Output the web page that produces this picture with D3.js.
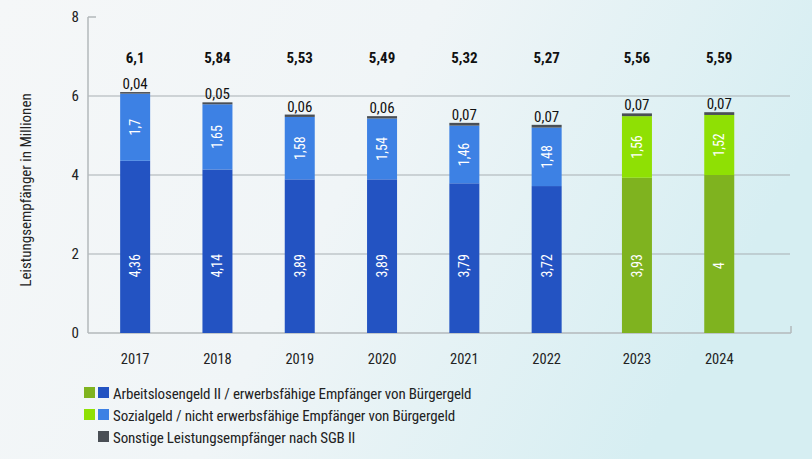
<!DOCTYPE html>
<html>
<head>
<meta charset="utf-8">
<script src="https://cdn.jsdelivr.net/npm/d3@7"></script>
<style>
  html, body { margin: 0; padding: 0; }
  body { width: 812px; height: 459px; overflow: hidden; }
  svg text { font-family: "Liberation Sans Narrow", "Arial Narrow", "Roboto Condensed", sans-serif; }
</style>
</head>
<body>
<div id="chart"></div>
<script>
// values in Millionen
var years = [2017, 2018, 2019, 2020, 2021, 2022, 2023, 2024];
var arbeitslosengeld = [4.36, 4.14, 3.89, 3.89, 3.79, 3.72, 3.93, 4];
var sozialgeld = [1.7, 1.65, 1.58, 1.54, 1.46, 1.48, 1.56, 1.52];
var sonstige = [0.04, 0.05, 0.06, 0.06, 0.07, 0.07, 0.07, 0.07];
var totals = [6.1, 5.84, 5.53, 5.49, 5.32, 5.27, 5.56, 5.59];
var yTicks = [0, 2, 4, 6, 8];
var legendLabels = [
  "Arbeitslosengeld II / erwerbsfähige Empfänger von Bürgergeld",
  "Sozialgeld / nicht erwerbsfähige Empfänger von Bürgergeld",
  "Sonstige Leistungsempfänger nach SGB II"
];

var W = 812, H = 459;
var blue = ["#2353c2", "#3d81e4", "#4a4f55"];
var green = ["#7fb31f", "#8fe004", "#4a4f55"];

function de(v) { return String(v).replace(".", ","); }
function isGreen(yr) { return yr >= 2023; }

var svg = d3.select("#chart").append("svg")
    .attr("width", W)
    .attr("height", H);

var defs = svg.append("defs");
var grad = defs.append("linearGradient")
    .attr("id", "bg")
    .attr("x1", "0").attr("y1", "0").attr("x2", "1").attr("y2", "0.3");
grad.append("stop").attr("offset", "0").attr("stop-color", "#f5f7f8");
grad.append("stop").attr("offset", "0.5").attr("stop-color", "#f0f5f7");
grad.append("stop").attr("offset", "1").attr("stop-color", "#d6eef2");
svg.append("rect").attr("width", W).attr("height", H).attr("fill", "url(#bg)");

var x0 = 88, x1 = 791;
var y = d3.scaleLinear().domain([0, 8]).range([333, 17]);
var x = d3.scaleBand().domain(years).range([94, 752.4]).padding(0);
var gap = 8, barW = 30;
function xc(yr) { return x(yr) + x.bandwidth() / 2 + (isGreen(yr) ? gap : 0); }

// gridlines
svg.append("g").selectAll("line")
    .data(yTicks.filter(function(d) { return d > 0 && d < 8; }))
    .enter().append("line")
    .attr("x1", x0).attr("x2", x1 - 1)
    .attr("y1", function(d) { return y(d); })
    .attr("y2", function(d) { return y(d); })
    .attr("stroke", "#a8afb3")
    .attr("stroke-width", 1);

// y axis
var yAxis = svg.append("g")
    .attr("transform", "translate(" + x0 + ",0)")
    .call(d3.axisLeft(y).tickValues(yTicks).tickSize(0).tickPadding(9));
yAxis.select(".domain").remove();
yAxis.selectAll("text")
    .attr("font-size", 15)
    .attr("fill", "#222");

svg.append("line")
    .attr("x1", x0).attr("x2", x0)
    .attr("y1", y(8)).attr("y2", y(0))
    .attr("stroke", "#b3b8bb").attr("stroke-width", 1.5);
svg.append("line")
    .attr("x1", x0).attr("x2", x0 + 8)
    .attr("y1", y(8)).attr("y2", y(8))
    .attr("stroke", "#b3b8bb").attr("stroke-width", 1.5);
svg.append("line")
    .attr("x1", x0).attr("x2", x1)
    .attr("y1", y(0)).attr("y2", y(0))
    .attr("stroke", "#b3b8bb").attr("stroke-width", 1.5);
svg.append("line")
    .attr("x1", x1).attr("x2", x1)
    .attr("y1", y(0)).attr("y2", y(0) - 7)
    .attr("stroke", "#b3b8bb").attr("stroke-width", 1.5);

svg.append("text")
    .attr("transform", "translate(31," + 190 + ") rotate(-90)")
    .attr("text-anchor", "middle")
    .attr("font-size", 15)
    .attr("fill", "#222")
    .text("Leistungsempfänger in Millionen");

// stacked bars
var rows = years.map(function(yr, i) {
  return { year: yr, vals: [arbeitslosengeld[i], sozialgeld[i], sonstige[i]] };
});

var bars = svg.append("g").selectAll("g")
    .data(rows)
    .enter().append("g");

bars.selectAll("rect")
    .data(function(r) {
      var acc = 0;
      return r.vals.map(function(v, k) {
        var seg = { year: r.year, k: k, v: v, y0: acc, y1: acc + v };
        acc += v;
        return seg;
      });
    })
    .enter().append("rect")
    .attr("x", function(s) { return xc(s.year) - barW / 2; })
    .attr("width", barW)
    .attr("y", function(s) { return y(s.y1); })
    .attr("height", function(s) { return y(s.y0) - y(s.y1); })
    .attr("fill", function(s) { return (isGreen(s.year) ? green : blue)[s.k]; });

// labels inside bars (rotated, white)
bars.append("text")
    .attr("transform", function(r) {
      return "translate(" + (xc(r.year) + 5) + "," + y(1.7) + ") rotate(-90)";
    })
    .attr("text-anchor", "middle")
    .attr("font-size", 14)
    .attr("fill", "#fff")
    .text(function(r) { return de(r.vals[0]); });

bars.append("text")
    .attr("transform", function(r) {
      var mid = r.vals[0] + r.vals[1] / 2;
      return "translate(" + (xc(r.year) + 5) + "," + y(mid) + ") rotate(-90)";
    })
    .attr("text-anchor", "middle")
    .attr("font-size", 14)
    .attr("fill", "#fff")
    .text(function(r) { return de(r.vals[1]); });

// small value above bar
bars.append("text")
    .attr("x", function(r) { return xc(r.year); })
    .attr("y", function(r) { return y(r.vals[0] + r.vals[1] + r.vals[2]) - 3; })
    .attr("text-anchor", "middle")
    .attr("font-size", 15)
    .attr("fill", "#111")
    .text(function(r) { return de(r.vals[2]); });

// totals
svg.append("g").selectAll("text")
    .data(years)
    .enter().append("text")
    .attr("x", function(yr) { return xc(yr); })
    .attr("y", 63)
    .attr("text-anchor", "middle")
    .attr("font-size", 15)
    .attr("font-weight", "bold")
    .attr("fill", "#111")
    .text(function(yr, i) { return de(totals[i]); });

// year labels
svg.append("g").selectAll("text")
    .data(years)
    .enter().append("text")
    .attr("x", function(yr) { return xc(yr); })
    .attr("y", 364)
    .attr("text-anchor", "middle")
    .attr("font-size", 14.5)
    .attr("fill", "#222")
    .text(function(yr) { return yr; });

// legend
var legend = svg.append("g").selectAll("g")
    .data(legendLabels)
    .enter().append("g")
    .attr("transform", function(d, i) { return "translate(0," + (393 + i * 22) + ")"; });

legend.filter(function(d, i) { return i < 2; })
    .append("rect")
    .attr("x", 84).attr("y", -6).attr("width", 11).attr("height", 11)
    .attr("fill", function(d, i) { return green[i]; });
legend.append("rect")
    .attr("x", 98).attr("y", -6).attr("width", 11).attr("height", 11)
    .attr("fill", function(d, i) { return blue[i]; });
legend.append("text")
    .attr("x", 113).attr("y", 5.5)
    .attr("font-size", 15)
    .attr("letter-spacing", -0.15)
    .attr("fill", "#222")
    .text(function(d) { return d; });
</script>
</body>
</html>
